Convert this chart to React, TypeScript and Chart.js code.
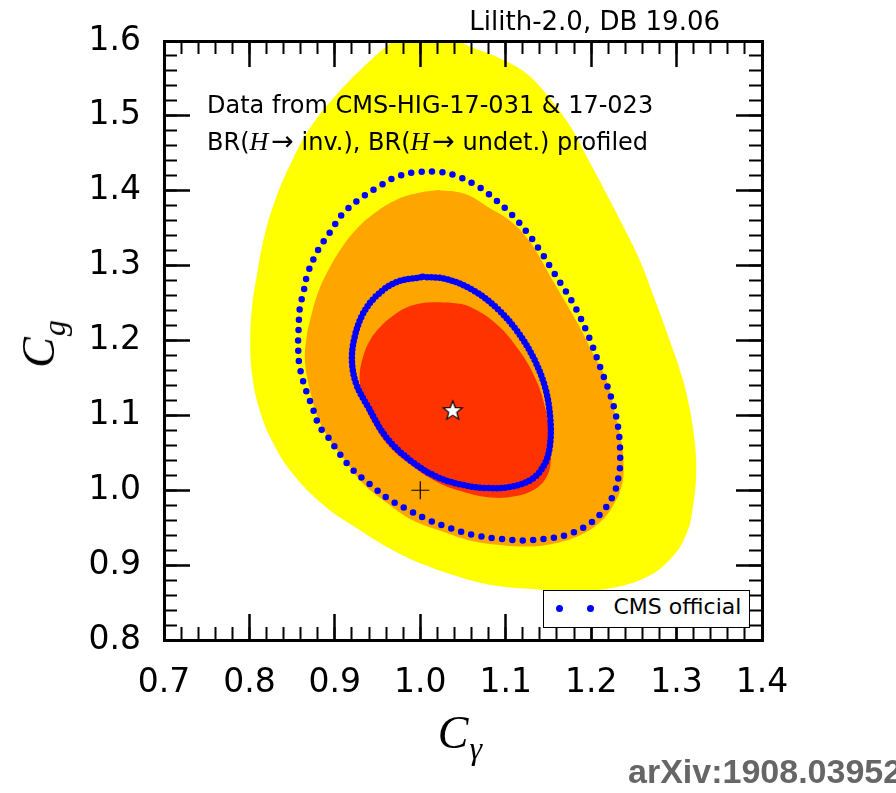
import React, { useEffect, useRef } from 'react';
import { Chart, registerables } from 'chart.js';

Chart.register(...registerables);

// ---- axis ticks ----
const X_TICKS = [0.7, 0.8, 0.9, 1.0, 1.1, 1.2, 1.3, 1.4];
const Y_TICKS = [0.8, 0.9, 1.0, 1.1, 1.2, 1.3, 1.4, 1.5, 1.6];
const X_RANGE = [0.7, 1.4];
const Y_RANGE = [0.8, 1.6];
const MINOR_STEP = 0.02;

// ---- Lilith contours (C_gamma, C_g) ----
const LILITH_3SIGMA: [number, number][] = [
  [0.985, 1.611], [1.011, 1.617], [1.035, 1.612], [1.052, 1.596], [1.089, 1.579],
  [1.125, 1.556], [1.151, 1.524], [1.175, 1.487], [1.196, 1.443], [1.216, 1.4],
  [1.236, 1.356], [1.257, 1.307], [1.275, 1.253], [1.292, 1.2], [1.306, 1.153],
  [1.315, 1.111], [1.321, 1.067], [1.323, 1.023], [1.319, 0.977], [1.312, 0.943],
  [1.295, 0.911], [1.265, 0.884], [1.222, 0.869], [1.183, 0.865], [1.143, 0.867],
  [1.085, 0.873], [1.046, 0.884], [1.008, 0.899], [0.968, 0.92], [0.929, 0.947],
  [0.888, 0.979], [0.85, 1.023], [0.826, 1.067], [0.811, 1.111], [0.803, 1.156],
  [0.801, 1.2], [0.803, 1.244], [0.809, 1.289], [0.817, 1.337], [0.83, 1.387],
  [0.847, 1.433], [0.871, 1.484], [0.904, 1.531], [0.935, 1.567], [0.964, 1.596],
];

const LILITH_2SIGMA: [number, number][] = [
  [1.02, 1.401], [1.052, 1.396], [1.081, 1.377], [1.105, 1.36], [1.125, 1.337],
  [1.14, 1.311], [1.155, 1.28], [1.171, 1.249], [1.187, 1.217], [1.202, 1.183],
  [1.218, 1.147], [1.227, 1.107], [1.235, 1.067], [1.238, 1.033], [1.236, 1.007],
  [1.226, 0.98], [1.21, 0.957], [1.187, 0.94], [1.157, 0.929], [1.128, 0.925],
  [1.093, 0.927], [1.058, 0.933], [1.031, 0.943], [0.991, 0.96], [0.961, 0.983],
  [0.933, 1.009], [0.912, 1.04], [0.894, 1.067], [0.88, 1.097], [0.871, 1.133],
  [0.865, 1.173], [0.867, 1.205], [0.871, 1.227], [0.88, 1.263], [0.892, 1.293],
  [0.908, 1.324], [0.927, 1.351], [0.95, 1.373], [0.974, 1.389], [0.997, 1.397],
];

const LILITH_1SIGMA: [number, number][] = [
  [1.019, 1.251], [1.038, 1.25], [1.058, 1.245], [1.089, 1.222], [1.113, 1.191],
  [1.132, 1.156], [1.144, 1.12], [1.151, 1.08], [1.153, 1.044], [1.148, 1.018],
  [1.132, 1.0], [1.105, 0.991], [1.077, 0.991], [1.05, 0.998], [1.023, 1.009],
  [0.992, 1.031], [0.964, 1.058], [0.945, 1.089], [0.933, 1.12], [0.929, 1.151],
  [0.933, 1.178], [0.941, 1.2], [0.953, 1.218], [0.968, 1.233], [0.984, 1.244],
  [1.003, 1.25],
];

// ---- CMS official contours ----
const CMS_68: [number, number][] = [
  [1.003, 1.285], [1.031, 1.282], [1.062, 1.267], [1.089, 1.244], [1.113, 1.213],
  [1.132, 1.178], [1.146, 1.138], [1.152, 1.098], [1.152, 1.062], [1.146, 1.036],
  [1.132, 1.016], [1.108, 1.005], [1.077, 1.003], [1.05, 1.007], [1.019, 1.018],
  [0.988, 1.04], [0.96, 1.071], [0.939, 1.111], [0.925, 1.142], [0.92, 1.173],
  [0.923, 1.204], [0.933, 1.236], [0.949, 1.26], [0.972, 1.278],
];

const CMS_95: [number, number][] = [
  [0.857, 1.2], [0.859, 1.244], [0.863, 1.263], [0.868, 1.289], [0.88, 1.32],
  [0.894, 1.344], [0.909, 1.369], [0.929, 1.389], [0.949, 1.404], [0.973, 1.419],
  [0.997, 1.425], [1.023, 1.425], [1.044, 1.419], [1.07, 1.404], [1.089, 1.387],
  [1.108, 1.367], [1.126, 1.343], [1.142, 1.317], [1.155, 1.293], [1.169, 1.268],
  [1.183, 1.241], [1.198, 1.203], [1.213, 1.157], [1.222, 1.129], [1.229, 1.1],
  [1.233, 1.071], [1.234, 1.04], [1.233, 1.024], [1.227, 0.996], [1.213, 0.971],
  [1.194, 0.952], [1.17, 0.94], [1.146, 0.935], [1.12, 0.933], [1.094, 0.935],
  [1.068, 0.939], [1.046, 0.945], [1.031, 0.951], [1.008, 0.961], [0.984, 0.975],
  [0.962, 0.989], [0.941, 1.008], [0.921, 1.027], [0.906, 1.048], [0.892, 1.071],
  [0.882, 1.085], [0.873, 1.113], [0.864, 1.141], [0.858, 1.171],
];

const BEST_FIT: [number, number] = [1.038, 1.107];
const SM_POINT: [number, number] = [1.0, 1.0];

const closed = (pts: [number, number][]) =>
  [...pts, pts[0]].map(([x, y]) => ({ x, y }));

function makeStar(): HTMLCanvasElement {
  const c = document.createElement('canvas');
  c.width = 24;
  c.height = 24;
  const g = c.getContext('2d')!;
  g.beginPath();
  for (let i = 0; i < 10; i++) {
    const r = i % 2 === 0 ? 10 : 4.3;
    const a = -Math.PI / 2 + (i * Math.PI) / 5;
    const px = 12 + r * Math.cos(a);
    const py = 12.8 + r * Math.sin(a);
    if (i === 0) g.moveTo(px, py);
    else g.lineTo(px, py);
  }
  g.closePath();
  g.fillStyle = '#ffffff';
  g.fill();
  g.lineWidth = 1.2;
  g.strokeStyle = '#000000';
  g.stroke();
  return c;
}

const SANS = "'DejaVu Sans', sans-serif";
const SERIF = "'Liberation Serif', 'DejaVu Serif', serif";

export default function App() {
  const ref = useRef<HTMLCanvasElement>(null);

  useEffect(() => {
    if (!ref.current) return;
    const star = makeStar();
    const tickFont = { family: SANS, size: 33 };
    const majorGrid = { drawOnChartArea: false, tickLength: -26, tickWidth: 2.5, tickColor: '#000', z: 1 };
    const minorGrid = { drawOnChartArea: false, tickLength: -13, tickWidth: 2, tickColor: '#000', z: 1 };
    const frame = { display: true, color: '#000', width: 3, z: 1 };
    const setMajor = (vals: number[]) => (s: any) => {
      s.ticks = vals.map((v) => ({ value: v }));
    };
    const fmt = (v: any) => Number(v).toFixed(1);
    const fitH = (h: number) => (s: any) => {
      s.height = h;
      s.paddingLeft = 0; s.paddingRight = 0; s.paddingTop = 0; s.paddingBottom = 0;
    };
    const fitW = (w: number) => (s: any) => {
      s.width = w;
      s.paddingLeft = 0; s.paddingRight = 0; s.paddingTop = 0; s.paddingBottom = 0;
    };
    const region = (label: string, pts: [number, number][], color: string, order: number) => ({
      label,
      data: closed(pts),
      backgroundColor: color,
      borderColor: 'transparent',
      borderWidth: 0,
      fill: 'shape',
      pointRadius: 0,
      tension: 0.4,
      order,
    });
    const dotted = (label: string, pts: [number, number][], gap: number, order: number) => ({
      label,
      data: closed(pts),
      borderColor: '#0000ff',
      borderWidth: 6.5,
      borderDash: [0, gap],
      borderCapStyle: 'round',
      fill: false,
      pointRadius: 0,
      tension: 0.35,
      order,
    });

    const chart = new Chart(ref.current, {
      type: 'line',
      data: {
        datasets: [
          region('Lilith 3 sigma', LILITH_3SIGMA, '#ffff00', 10),
          region('Lilith 2 sigma', LILITH_2SIGMA, '#ffa500', 9),
          region('Lilith 1 sigma', LILITH_1SIGMA, '#ff3300', 8),
          dotted('CMS official 95%', CMS_95, 10.4, 5),
          dotted('CMS official 68%', CMS_68, 4.2, 4),
          {
            label: 'SM',
            data: [{ x: SM_POINT[0], y: SM_POINT[1] }],
            showLine: false,
            pointStyle: 'cross',
            pointRadius: 9,
            borderColor: '#000',
            borderWidth: 1.2,
            order: 2,
          },
          {
            label: 'Best fit',
            data: [{ x: BEST_FIT[0], y: BEST_FIT[1] }],
            showLine: false,
            pointStyle: star as any,
            pointRadius: 10,
            order: 1,
          },
        ] as any,
      },
      options: {
        responsive: false,
        animation: false,
        devicePixelRatio: 1,
        events: [],
        layout: { padding: { top: 41, right: 134, left: 0, bottom: 0 } },
        plugins: { legend: { display: false }, tooltip: { enabled: false }, title: { display: false } },
        scales: {
          x: {
            type: 'linear', position: 'bottom', weight: 1,
            min: X_RANGE[0], max: X_RANGE[1],
            afterBuildTicks: setMajor(X_TICKS),
            afterFit: fitH(153),
            ticks: { font: tickFont, color: '#000', padding: 50, callback: fmt, maxRotation: 0, autoSkip: false },
            grid: majorGrid, border: frame,
          },
          xMinor: {
            type: 'linear', position: 'bottom', weight: 0,
            min: X_RANGE[0], max: X_RANGE[1],
            afterFit: fitH(0),
            ticks: { display: false, stepSize: MINOR_STEP },
            grid: minorGrid, border: { display: false },
          },
          xTop: {
            type: 'linear', position: 'top', weight: 1,
            min: X_RANGE[0], max: X_RANGE[1],
            afterBuildTicks: setMajor(X_TICKS),
            afterFit: fitH(0),
            ticks: { display: false },
            grid: majorGrid, border: frame,
          },
          xTopMinor: {
            type: 'linear', position: 'top', weight: 0,
            min: X_RANGE[0], max: X_RANGE[1],
            afterFit: fitH(0),
            ticks: { display: false, stepSize: MINOR_STEP },
            grid: minorGrid, border: { display: false },
          },
          y: {
            type: 'linear', position: 'left', weight: 1,
            min: Y_RANGE[0], max: Y_RANGE[1],
            afterBuildTicks: setMajor(Y_TICKS),
            afterFit: fitW(164),
            ticks: { font: tickFont, color: '#000', padding: 49, callback: fmt, autoSkip: false },
            grid: majorGrid, border: frame,
          },
          yMinor: {
            type: 'linear', position: 'left', weight: 0,
            min: Y_RANGE[0], max: Y_RANGE[1],
            afterFit: fitW(0),
            ticks: { display: false, stepSize: MINOR_STEP },
            grid: minorGrid, border: { display: false },
          },
          yRight: {
            type: 'linear', position: 'right', weight: 1,
            min: Y_RANGE[0], max: Y_RANGE[1],
            afterBuildTicks: setMajor(Y_TICKS),
            afterFit: fitW(0),
            ticks: { display: false },
            grid: majorGrid, border: frame,
          },
          yRightMinor: {
            type: 'linear', position: 'right', weight: 0,
            min: Y_RANGE[0], max: Y_RANGE[1],
            afterFit: fitW(0),
            ticks: { display: false, stepSize: MINOR_STEP },
            grid: minorGrid, border: { display: false },
          },
        } as any,
      },
    });
    return () => chart.destroy();
  }, []);

  const dot = (left: number) => (
    <span
      style={{
        position: 'absolute', left: left - 3.5, top: 13.5, width: 7, height: 7,
        borderRadius: '50%', background: '#0000ff',
      }}
    />
  );
  const mathH = <span style={{ fontFamily: SERIF, fontStyle: 'italic', fontSize: 26 }}>H</span>;
  const arrow = <span style={{ fontFamily: SANS, fontSize: 27, marginLeft: 3 }}>→</span>;

  return (
    <div style={{ position: 'absolute', left: 0, top: 0, width: 896, height: 793, background: '#fff', overflow: 'hidden' }}>
      <canvas ref={ref} width={896} height={793} style={{ position: 'absolute', left: 0, top: 0, width: 896, height: 793 }} />

      <div style={{ position: 'absolute', right: 176, top: 6, fontFamily: SANS, fontSize: 26, lineHeight: '30px', whiteSpace: 'nowrap', color: '#000' }}>
        Lilith-2.0, DB 19.06
      </div>

      <div style={{ position: 'absolute', left: 207, top: 86.7, fontFamily: SANS, fontSize: 24, lineHeight: '36px', whiteSpace: 'nowrap', color: '#000' }}>
        <div>Data from CMS-HIG-17-031 &amp; 17-023</div>
        <div style={{ height: 36 }}>
          BR({mathH}{arrow} inv.), BR({mathH}{arrow} undet.) profiled
        </div>
      </div>

      <div style={{ position: 'absolute', left: 543, top: 590, width: 207, height: 38, boxSizing: 'border-box', border: '1.5px solid #000', background: '#fff' }}>
        {dot(15)}
        {dot(46)}
        <span style={{ position: 'absolute', left: 69.5, top: 2.5, fontFamily: SANS, fontSize: 22, lineHeight: '26px', whiteSpace: 'nowrap', color: '#000' }}>
          CMS official
        </span>
      </div>

      <div style={{ position: 'absolute', left: 460, top: 710, transform: 'translateX(-50%)', fontFamily: SERIF, fontStyle: 'italic', fontSize: 46, lineHeight: '46px', whiteSpace: 'nowrap', color: '#000' }}>
        C<span style={{ fontSize: 32, position: 'relative', top: 11, marginLeft: 1 }}>γ</span>
      </div>

      <div style={{ position: 'absolute', left: 41, top: 344, transform: 'translate(-50%, -50%) rotate(-90deg)', fontFamily: SERIF, fontStyle: 'italic', fontSize: 46, lineHeight: '46px', whiteSpace: 'nowrap', color: '#000' }}>
        C<span style={{ fontSize: 32, position: 'relative', top: 11, marginLeft: 1 }}>g</span>
      </div>

      <div style={{ position: 'absolute', left: 628, top: 751, fontFamily: "'Liberation Sans', Arial, sans-serif", fontWeight: 'bold', fontSize: 34, lineHeight: '40px', whiteSpace: 'nowrap', color: '#666' }}>
        arXiv:1908.03952
      </div>
    </div>
  );
}
